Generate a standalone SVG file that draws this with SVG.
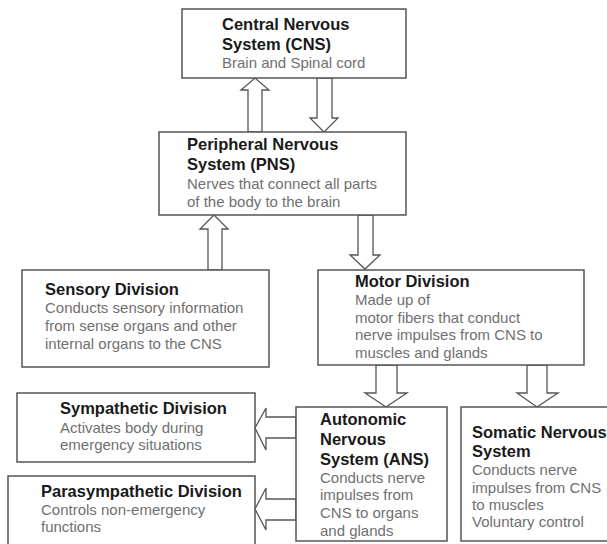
<svg xmlns="http://www.w3.org/2000/svg" width="607" height="544" viewBox="0 0 607 544">
<style>
.box{fill:#fff;stroke:#555;stroke-width:1.5}
.arr{fill:#fff;stroke:#555;stroke-width:1.3;stroke-linejoin:miter}
.t{font-family:"Liberation Sans",Arial,sans-serif;font-weight:bold;font-size:16.5px;fill:#1a1a1a}
.d{font-family:"Liberation Sans",Arial,sans-serif;font-size:15px;fill:#707070}
</style>
<rect width="607" height="544" fill="#fff"/>
<g id="connectors">
<polygon class="arr" points="248,132 248,90 241,90 255,78 269,90 262,90 262,132"/>
<polygon class="arr" points="317,78 317,118 310,118 324,132 338,118 332,118 332,78"/>
<polygon class="arr" points="208,270 208,229 200,229 214,215 228,229 222,229 222,270"/>
<polygon class="arr" points="358,215 358,255 350,255 365,269 380,255 373,255 373,215"/>
<polygon class="arr" points="376,365 376,393 365,393 386,407 407,393 397,393 397,365"/>
<polygon class="arr" points="527,365 527,393 517,393 537,407 558,393 547,393 547,365"/>
<polygon class="arr" points="296,417 266,417 266,408 255,428 266,450 266,438 296,438"/>
<polygon class="arr" points="296,499 266,499 266,488 255,509 266,530 266,520 296,520"/>
</g>
<g id="cns">
<rect class="box" x="182" y="9" width="224" height="69"/>
<text class="t" x="222" y="30">Central Nervous</text>
<text class="t" x="222" y="50">System (CNS)</text>
<text class="d" x="222" y="68">Brain and Spinal cord</text>
</g>
<g id="pns">
<rect class="box" x="159" y="132" width="247" height="83"/>
<text class="t" x="187" y="150">Peripheral Nervous</text>
<text class="t" x="187" y="170">System (PNS)</text>
<text class="d" x="187" y="189">Nerves that connect all parts</text>
<text class="d" x="187" y="207">of the body to the brain</text>
</g>
<g id="sensory">
<rect class="box" x="22" y="270" width="247" height="97"/>
<text class="t" x="45" y="295">Sensory Division</text>
<text class="d" x="45" y="313">Conducts sensory information</text>
<text class="d" x="45" y="331">from sense organs and other</text>
<text class="d" x="45" y="349">internal organs to the CNS</text>
</g>
<g id="motor">
<rect class="box" x="318" y="270" width="266" height="95"/>
<text class="t" x="355" y="287">Motor Division</text>
<text class="d" x="355" y="305">Made up of</text>
<text class="d" x="355" y="323">motor fibers that conduct</text>
<text class="d" x="355" y="340">nerve impulses from CNS to</text>
<text class="d" x="355" y="358">muscles and glands</text>
</g>
<g id="sympathetic">
<rect class="box" x="17" y="393" width="238" height="69"/>
<text class="t" x="60" y="414">Sympathetic Division</text>
<text class="d" x="60" y="433">Activates body during</text>
<text class="d" x="60" y="450">emergency situations</text>
</g>
<g id="parasympathetic">
<rect class="box" x="8" y="476" width="247" height="90"/>
<text class="t" x="41" y="497">Parasympathetic Division</text>
<text class="d" x="41" y="515">Controls non-emergency</text>
<text class="d" x="41" y="532">functions</text>
</g>
<g id="ans">
<rect class="box" x="296" y="407" width="151" height="134"/>
<text class="t" x="320" y="425">Autonomic</text>
<text class="t" x="320" y="445">Nervous</text>
<text class="t" x="320" y="465">System (ANS)</text>
<text class="d" x="320" y="483">Conducts nerve</text>
<text class="d" x="320" y="500">impulses from</text>
<text class="d" x="320" y="518">CNS to organs</text>
<text class="d" x="320" y="536">and glands</text>
</g>
<g id="somatic">
<rect class="box" x="461" y="407" width="170" height="134"/>
<text class="t" x="472" y="438">Somatic Nervous</text>
<text class="t" x="472" y="457">System</text>
<text class="d" x="472" y="475">Conducts nerve</text>
<text class="d" x="472" y="493">impulses from CNS</text>
<text class="d" x="472" y="510">to muscles</text>
<text class="d" x="472" y="527">Voluntary control</text>
</g>
</svg>
